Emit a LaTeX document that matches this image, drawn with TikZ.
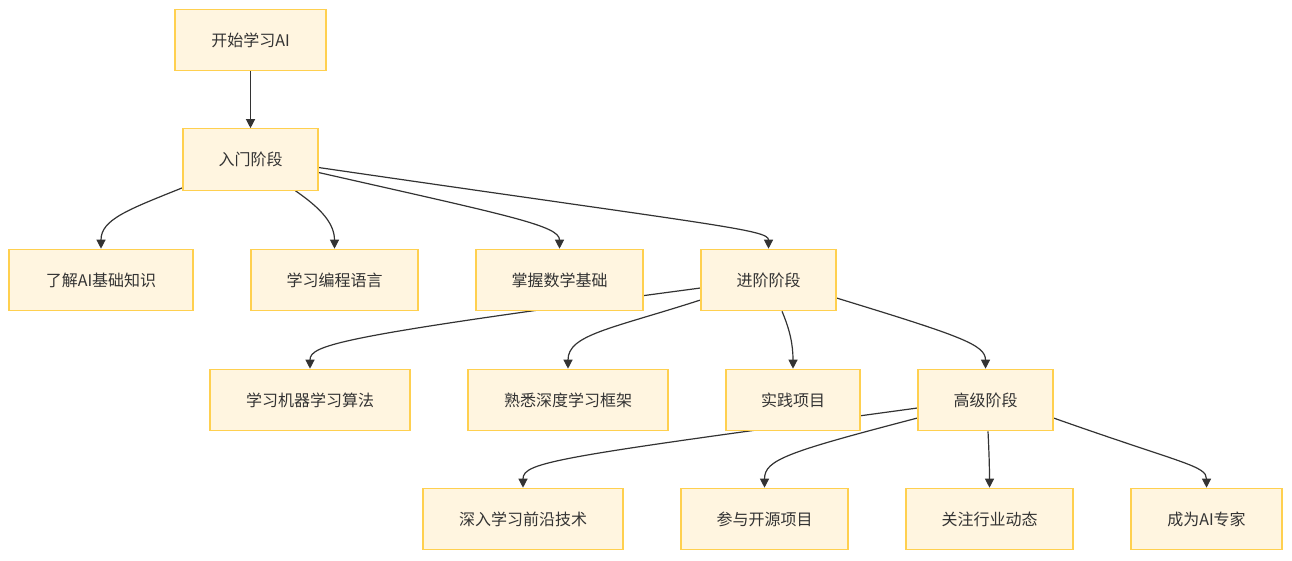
\documentclass[tikz,border=0pt]{standalone}
\usepackage{fontspec}
\setmainfont{Noto Sans CJK SC}
\usetikzlibrary{arrows.meta,calc,backgrounds}
\definecolor{nfill}{HTML}{FFF5E0}
\definecolor{nborder}{HTML}{FFD04F}
\definecolor{ink}{HTML}{333333}
\begin{document}
\begin{tikzpicture}[x=1pt,y=-1pt,
  box/.style={rectangle, draw=nborder, fill=nfill, line width=1.1pt, text=ink,
    font=\fontsize{16}{19}\selectfont, minimum height=61.5pt, inner sep=0pt},
  link/.style={draw=ink, line width=1.2pt, -{Triangle[length=9pt,width=9pt]}}]
\useasboundingbox (0,0) rectangle (1292,560);

\node[box, minimum width=151pt] (s)  at (250.5,40)   {开始学习AI};
\node[box, minimum width=135pt] (a)  at (250.5,159.5) {入门阶段};
\node[box, minimum width=184pt] (b1) at (101,280)    {了解AI基础知识};
\node[box, minimum width=167pt] (b2) at (334.5,280)  {学习编程语言};
\node[box, minimum width=167pt] (b3) at (559.5,280)  {掌握数学基础};
\node[box, minimum width=135pt] (c)  at (768.5,280)  {进阶阶段};
\node[box, minimum width=200pt] (d1) at (310,400)    {学习机器学习算法};
\node[box, minimum width=200pt] (d2) at (568,400)    {熟悉深度学习框架};
\node[box, minimum width=134pt] (d3) at (793,400)    {实践项目};
\node[box, minimum width=135pt] (d4) at (985.5,400)  {高级阶段};
\node[box, minimum width=200pt] (e1) at (523,519)    {深入学习前沿技术};
\node[box, minimum width=167pt] (e2) at (764.5,519)  {参与开源项目};
\node[box, minimum width=167pt] (e3) at (989.5,519)  {关注行业动态};
\node[box, minimum width=151pt] (e4) at (1206.5,519) {成为AI专家};

\begin{scope}[on background layer]
\draw[link] (s.south) -- (a.north);
\draw[link] ($(a.south west)+(0,-3)$) .. controls +(-55,22) and +(0,-29) .. (b1.north);
\draw[link] ($(a.south)+(45,0)$) .. controls +(20,14) and +(0,-28) .. (b2.north);
\draw[link] ($(a.east)+(0,13)$) .. controls +(192,43.5) and +(0,-23) .. (b3.north);
\draw[link] ($(a.east)+(0,8)$) .. controls +(402,58.5) and +(0,-19) .. (c.north);
\draw[link] ($(c.west)+(0,8)$) .. controls +(-361,48) and +(0,-24) .. (d1.north);
\draw[link] ($(c.west)+(0,20)$) .. controls +(-90,29) and +(0,-34) .. (d2.north);
\draw[link] ($(c.south)+(13.5,0)$) .. controls +(8,19) and +(0,-24) .. (d3.north);
\draw[link] ($(c.east)+(0,18)$) .. controls +(124,38) and +(0,-24) .. (d4.north);
\draw[link] ($(d4.west)+(0,8)$) .. controls +(-360,49) and +(0,-26) .. (e1.north);
\draw[link] ($(d4.west)+(0,18)$) .. controls +(-130,34) and +(0,-28) .. (e2.north);
\draw[link] ($(d4.south)+(2.5,0)$) .. controls +(1,20) and +(0,-20) .. (e3.north);
\draw[link] ($(d4.east)+(0,18)$) .. controls +(130,46) and +(0,-22) .. (e4.north);
\end{scope}
\end{tikzpicture}
\end{document}
